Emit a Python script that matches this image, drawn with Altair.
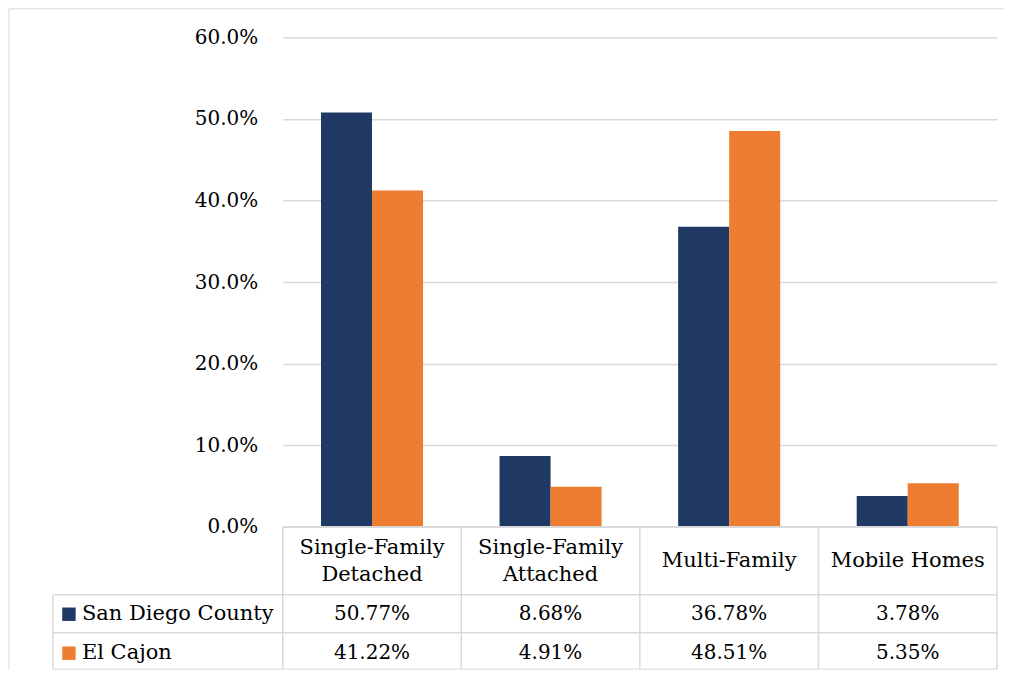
import altair as alt
import pandas as pd

# ---- data ----
categories = ["Single-Family Detached", "Single-Family Attached", "Multi-Family", "Mobile Homes"]
header_labels = ["Single-Family\nDetached", "Single-Family\nAttached", "Multi-Family", "Mobile Homes"]
series = ["San Diego County", "El Cajon"]
san_diego = [50.77, 8.68, 36.78, 3.78]
el_cajon = [41.22, 4.91, 48.51, 5.35]
y_ticks = [0, 10, 20, 30, 40, 50, 60]

colors = ["#203864", "#ED7D31"]
FONT = "DejaVu Serif"
FS = 20        # numbers
FS_WORDS = 21  # words in the table
LINE = "#d9d9d9"

rows = []
for s, vals in zip(series, [san_diego, el_cajon]):
    for c, v in zip(categories, vals):
        rows.append({"category": c, "series": s, "value": v, "label": f"{v:.2f}%"})
df = pd.DataFrame(rows)
cat_df = pd.DataFrame({"category": categories, "header": header_labels})
leg_df = pd.DataFrame({"series": series})
one = alt.InlineData(values=[{"k": 1}])

xscale = alt.Scale(domain=categories, paddingInner=0, paddingOuter=0)
X = alt.X("category:N", scale=xscale, axis=None, sort=categories)
color = alt.Color("series:N", scale=alt.Scale(domain=series, range=colors), legend=None)

W, H = 715, 490

bars = alt.Chart(df).mark_bar().encode(
    x=X,
    xOffset=alt.XOffset("series:N", scale=alt.Scale(domain=series, paddingInner=0, paddingOuter=0.75), sort=series),
    y=alt.Y(
        "value:Q",
        scale=alt.Scale(domain=[0, 60], nice=False),
        axis=alt.Axis(
            values=y_ticks,
            labelExpr="format(datum.value, '.1f') + '%'",
            grid=True, gridColor=LINE, gridWidth=1.5,
            domain=False, ticks=False, labelPadding=25,
            labelFont=FONT, labelFontSize=FS, labelColor="black", title=None,
        ),
    ),
    color=color,
)

header_two = alt.Chart(cat_df).transform_filter("indexof(datum.header, '\\n') >= 0").mark_text(
    font=FONT, fontSize=FS_WORDS, lineBreak="\n", lineHeight=27, baseline="middle", color="black"
).encode(x=X, y=alt.value(511), text="header:N")

header_one = alt.Chart(cat_df).transform_filter("indexof(datum.header, '\\n') < 0").mark_text(
    font=FONT, fontSize=FS_WORDS, baseline="middle", color="black"
).encode(x=X, y=alt.value(524.5), text="header:N")


def value_row(name, ypos):
    return alt.Chart(df).transform_filter(alt.datum.series == name).mark_text(
        font=FONT, fontSize=FS, baseline="middle", color="black"
    ).encode(x=X, y=alt.value(ypos), text="label:N")


def legend_row(name, ypos):
    sq = alt.Chart(leg_df).transform_filter(alt.datum.series == name).mark_square(
        size=180, opacity=1, filled=True
    ).encode(x=alt.value(-214), y=alt.value(ypos), color=color)
    tx = alt.Chart(leg_df).transform_filter(alt.datum.series == name).mark_text(
        font=FONT, fontSize=FS_WORDS, baseline="middle", align="left", color="black"
    ).encode(x=alt.value(-201), y=alt.value(ypos), text="series:N")
    return sq + tx


def hline(x1, x2, y, col=LINE, w=1.5):
    return alt.Chart(one).mark_rule(color=col, strokeWidth=w).encode(
        x=alt.value(x1), x2=alt.value(x2), y=alt.value(y)
    )


def vline(x, y1, y2, col=LINE, w=1.5):
    return alt.Chart(one).mark_rule(color=col, strokeWidth=w).encode(
        x=alt.value(x), y=alt.value(y1), y2=alt.value(y2)
    )


col_lines = alt.Chart(cat_df).mark_rule(color=LINE, strokeWidth=1.5).encode(
    x=alt.X("category:N", scale=xscale, axis=None, sort=categories, bandPosition=0),
    y=alt.value(490), y2=alt.value(632.5),
)

table_lines = (
    hline(0, W, 490)
    + hline(-230, W, 558)
    + hline(-230, W, 596)
    + hline(-230, W, 632.5, w=1)
    + vline(-230, 558, 632.5)
    + vline(W, 490, 632.5)
    + col_lines
)

frame = hline(-274, 722, -28.5, w=1) + vline(-274, -28.5, 632.5, w=1)

chart = alt.layer(
    frame,
    bars,
    table_lines,
    header_two,
    header_one,
    value_row("San Diego County", 577.5),
    value_row("El Cajon", 616.5),
    legend_row("San Diego County", 577.5),
    legend_row("El Cajon", 616.5),
).properties(width=W, height=H, padding=0).configure_view(stroke=None)

chart.save("out.html", embed_options={"renderer": "svg", "actions": False})
